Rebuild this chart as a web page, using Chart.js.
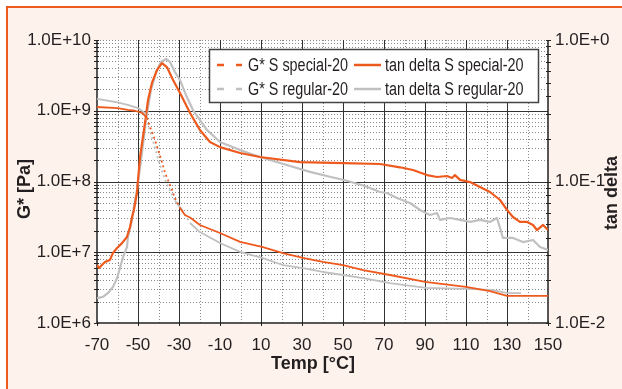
<!DOCTYPE html>
<html>
<head>
<meta charset="utf-8">
<script src="https://cdn.jsdelivr.net/npm/chart.js@4.4.1/dist/chart.umd.min.js"></script>
<style>
  html, body { margin: 0; padding: 0; background: #fff; }
  canvas { display: block; }
</style>
</head>
<body>
<canvas id="chart" width="622" height="389"></canvas>
<script>
// ---- values ----
const seriesLabels = ['G* S special-20', 'G* S regular-20', 'tan delta S special-20', 'tan delta S regular-20'];

const gSpecialTemp = [-70, -60, -55, -51.5, -48, -45.6, -43.2, -41.7, -40.2, -38.3, -36.8, -35.4, -33.4, -32, -29.5, -27.1, -24.6, -19.8, -10, -0.2, 10.5, 20.7, 30.5, 40.2, 50, 59.8, 72.9, 90, 110, 121.7, 130, 140, 150];
const gSpecialVal = [1.13e9, 1.09e9, 1.03e9, 1.0e9, 9.3e8, 7.9e8, 5.0e8, 3.86e8, 2.79e8, 1.89e8, 1.32e8, 1.05e8, 7.6e7, 5.85e7, 4.22e7, 3.36e7, 3.1e7, 2.43e7, 1.87e7, 1.40e7, 1.19e7, 9.75e6, 8.3e6, 7.3e6, 6.6e6, 5.6e6, 4.77e6, 3.8e6, 3.23e6, 2.83e6, 2.41e6, 2.41e6, 2.41e6];

const gRegularTemp = [-70, -61, -55, -50, -46.6, -44.5, -42, -40, -38, -36, -34, -32, -28.5, -24.6, -19.8, -10, -0.2, 10.5, 20.7, 30.5, 40.2, 50, 59.8, 72.9, 90.5, 111, 122.2, 130.5, 136.8];
const gRegularVal = [1.47e9, 1.33e9, 1.21e9, 1.09e9, 9.3e8, 5.6e8, 3.2e8, 2.0e8, 1.32e8, 9.3e7, 7.1e7, 5.4e7, 3.95e7, 2.59e7, 1.93e7, 1.35e7, 1.01e7, 8.3e6, 6.6e6, 5.98e6, 5.26e6, 4.77e6, 4.32e6, 3.67e6, 3.13e6, 3.03e6, 2.93e6, 2.65e6, 2.65e6];

const tanSpecialTemp = [-70, -69, -67.6, -66.1, -63.7, -62.2, -60.2, -57.8, -55.4, -53.9, -52.9, -52, -50.5, -50, -49, -46.6, -45.1, -43.2, -40.7, -38.3, -35.9, -32.9, -29.5, -24.6, -19.8, -14.9, -10, -0.2, 9.5, 29, 50.5, 68, 77.8, 84.1, 91, 95.9, 100.7, 103.2, 104.6, 107.1, 112, 116.8, 121.7, 126.6, 130, 132.9, 136.3, 139.8, 142.7, 144.6, 147.6, 150];
const tanSpecialVal = [0.0257, 0.0245, 0.0257, 0.027, 0.0279, 0.0313, 0.0339, 0.0367, 0.0405, 0.0477, 0.0561, 0.0629, 0.083, 0.1025, 0.149, 0.259, 0.377, 0.497, 0.614, 0.687, 0.644, 0.521, 0.422, 0.305, 0.231, 0.190, 0.175, 0.159, 0.149, 0.137, 0.135, 0.133, 0.126, 0.1205, 0.111, 0.1076, 0.1094, 0.106, 0.111, 0.1026, 0.0991, 0.0914, 0.0843, 0.074, 0.063, 0.0561, 0.0518, 0.0518, 0.0493, 0.0454, 0.0493, 0.0454];

const tanRegularTemp = [-70, -67.1, -64.6, -62.2, -60.2, -58.8, -57.3, -55.4, -54.9, -52.9, -52, -50.5, -48.5, -46.1, -43.7, -41.2, -38.8, -36.3, -34.4, -32, -29.5, -26.6, -23.2, -16.3, -10, -0.2, 9.5, 19.3, 33.9, 44.1, 50.5, 60.7, 68, 71.5, 76.3, 82.7, 87.6, 92.4, 95.9, 97.3, 102.2, 107.1, 112, 116.8, 121.7, 125.1, 126.6, 128, 132.9, 137.8, 142.7, 146.1, 150];
const tanRegularVal = [0.0150, 0.0153, 0.0163, 0.0180, 0.0208, 0.0245, 0.0292, 0.0344, 0.0405, 0.0535, 0.066, 0.0871, 0.142, 0.272, 0.443, 0.594, 0.70, 0.734, 0.70, 0.594, 0.521, 0.409, 0.320, 0.231, 0.190, 0.167, 0.149, 0.135, 0.117, 0.1076, 0.1025, 0.0929, 0.0843, 0.0829, 0.0764, 0.0705, 0.0629, 0.058, 0.0599, 0.0535, 0.0552, 0.0535, 0.0518, 0.0535, 0.0518, 0.0552, 0.0469, 0.0399, 0.0399, 0.0373, 0.0386, 0.0344, 0.0328];

const tempTicks = [-70, -50, -30, -10, 10, 30, 50, 70, 90, 110, 130, 150];
const gTicks = [1e6, 1e7, 1e8, 1e9, 1e10];
const tanTicks = [1e-2, 1e-1, 1e0];

const ORANGE = '#EE5A1E';
const GREY = '#C0C0C0';
const PEACH = '#FDF2EC';
const TEXT = '#231F20';
const TICK_FONT = "'Liberation Sans', Arial, sans-serif";
const TITLE_FONT = "bold 18px 'Liberation Sans', Arial, sans-serif";

const toPoints = (xs, ys) => xs.map((x, i) => ({ x, y: ys[i] }));

// "1.0E+10" style labels
function sciLabel(v) {
  const e = Math.round(Math.log10(v));
  return '1.0E' + (e >= 0 ? '+' : '-') + Math.abs(e);
}

// the G* curves are dashed; where they are flat the dense data makes them look solid
function steepDash(ctx) {
  const dx = Math.abs(ctx.p1.x - ctx.p0.x) || 0.01;
  const dy = Math.abs(ctx.p1.y - ctx.p0.y);
  return dy / dx > 1.6 ? [2, 3] : undefined;
}

const framePlugin = {
  id: 'frame',
  beforeDraw(chart) {
    const c = chart.ctx, a = chart.chartArea;
    c.save();
    c.fillStyle = '#fff';
    c.fillRect(0, 0, chart.width, chart.height);
    c.fillStyle = PEACH;
    c.fillRect(7, 7, chart.width - 7, chart.height - 7);
    c.strokeStyle = ORANGE;
    c.lineWidth = 2;
    c.beginPath();
    c.moveTo(6, 7); c.lineTo(chart.width, 7);
    c.moveTo(7, 6); c.lineTo(7, chart.height);
    c.stroke();
    c.fillStyle = '#fff';
    c.fillRect(a.left, a.top, a.right - a.left, a.bottom - a.top);
    c.restore();
  },
  beforeDatasetsDraw(chart) {
    const c = chart.ctx, a = chart.chartArea;
    const xs = chart.scales.x, ys = chart.scales.y, y1 = chart.scales.y1;
    c.save();
    c.lineWidth = 1;
    // minor dotted lines
    c.strokeStyle = '#8a8a8a';
    c.setLineDash([1, 2]);
    c.beginPath();
    for (let t = -60; t < 150; t += 20) {
      const px = Math.round(xs.getPixelForValue(t)) + 0.5;
      c.moveTo(px, a.top); c.lineTo(px, a.bottom);
    }
    for (let d = 6; d < 10; d++) {
      for (let k = 2; k < 10; k++) {
        const py = Math.round(ys.getPixelForValue(k * Math.pow(10, d))) + 0.5;
        c.moveTo(a.left, py); c.lineTo(a.right, py);
      }
    }
    const topY = Math.round(a.top) + 0.5;
    c.moveTo(a.left, topY); c.lineTo(a.right, topY);
    c.stroke();
    // major solid lines
    c.setLineDash([]);
    c.strokeStyle = '#333';
    c.beginPath();
    tempTicks.slice(1, -1).forEach(t => {
      const px = Math.round(xs.getPixelForValue(t)) + 0.5;
      c.moveTo(px, a.top); c.lineTo(px, a.bottom);
    });
    gTicks.slice(1, -1).forEach(v => {
      const py = Math.round(ys.getPixelForValue(v)) + 0.5;
      c.moveTo(a.left, py); c.lineTo(a.right, py);
    });
    c.stroke();
    // axes
    c.strokeStyle = '#222';
    c.lineWidth = 1.5;
    c.beginPath();
    c.moveTo(a.left, a.top); c.lineTo(a.left, a.bottom); c.lineTo(a.right, a.bottom); c.lineTo(a.right, a.top);
    c.stroke();
    // tick marks
    c.lineWidth = 1;
    c.beginPath();
    for (let d = 6; d < 10; d++) {
      for (let k = 1; k < 10; k++) {
        const py = Math.round(ys.getPixelForValue(k * Math.pow(10, d))) + 0.5;
        c.moveTo(a.left - 3, py); c.lineTo(a.left + 2, py);
      }
    }
    for (let d = -2; d < 0; d++) {
      for (let k = 1; k < 10; k++) {
        const py = Math.round(y1.getPixelForValue(k * Math.pow(10, d))) + 0.5;
        c.moveTo(a.right - 2, py); c.lineTo(a.right + 3, py);
      }
    }
    [1e10, 1e0].forEach((v, i) => {
      const py = Math.round((i ? y1 : ys).getPixelForValue(v)) + 0.5;
      if (i) { c.moveTo(a.right - 2, py); c.lineTo(a.right + 3, py); }
      else { c.moveTo(a.left - 3, py); c.lineTo(a.left + 2, py); }
    });
    tempTicks.forEach(t => {
      const px = Math.round(xs.getPixelForValue(t)) + 0.5;
      c.moveTo(px, a.bottom - 2); c.lineTo(px, a.bottom + 3);
    });
    c.stroke();
    c.restore();
  },
  afterDraw(chart) {
    const c = chart.ctx;
    c.save();
    // axis titles
    c.fillStyle = TEXT;
    c.font = TITLE_FONT;
    c.textAlign = 'center';
    c.textBaseline = 'middle';
    c.fillText('Temp [°C]', 313, 364);
    c.translate(25, 189);
    c.rotate(-Math.PI / 2);
    c.fillText('G* [Pa]', 0, 0);
    c.setTransform(1, 0, 0, 1, 0, 0);
    c.translate(612, 193);
    c.rotate(-Math.PI / 2);
    c.fillText('tan delta', 0, 0);
    c.setTransform(1, 0, 0, 1, 0, 0);

    // legend, 2 x 2, drawn from the datasets
    c.fillStyle = '#fff';
    c.fillRect(209, 49, 329, 53);
    c.strokeStyle = '#444';
    c.lineWidth = 1.5;
    c.strokeRect(209.5, 49.5, 329, 53);
    c.font = "18px 'Liberation Sans', Arial, sans-serif";
    c.textAlign = 'left';
    const slots = [
      { ds: 0, x: 215, y: 65 }, { ds: 2, x: 352, y: 65 },
      { ds: 1, x: 215, y: 89 }, { ds: 3, x: 352, y: 89 }
    ];
    slots.forEach(s => {
      const ds = chart.data.datasets[s.ds];
      const dashed = s.ds < 2;
      c.strokeStyle = ds.borderColor;
      c.lineWidth = 2.5;
      c.setLineDash(dashed ? [7, 12] : []);
      c.beginPath();
      c.moveTo(s.x + 2, s.y); c.lineTo(s.x + (dashed ? 27 : 29), s.y);
      c.stroke();
      c.setLineDash([]);
      c.fillStyle = TEXT;
      // squeeze the text to look like the condensed face of the original
      c.save();
      c.translate(s.x + 33, s.y + 1);
      c.scale(0.8, 1);
      c.fillText(ds.label, 0, 0);
      c.restore();
    });
    c.restore();
  }
};

new Chart(document.getElementById('chart'), {
  type: 'line',
  data: {
    datasets: [
      {
        label: seriesLabels[0], yAxisID: 'y',
        data: toPoints(gSpecialTemp, gSpecialVal),
        borderColor: ORANGE, borderWidth: 1.8,
        segment: { borderDash: steepDash }
      },
      {
        label: seriesLabels[1], yAxisID: 'y',
        data: toPoints(gRegularTemp, gRegularVal),
        borderColor: GREY, borderWidth: 1.8,
        segment: { borderDash: steepDash }
      },
      {
        label: seriesLabels[2], yAxisID: 'y1',
        data: toPoints(tanSpecialTemp, tanSpecialVal),
        borderColor: ORANGE, borderWidth: 2.2
      },
      {
        label: seriesLabels[3], yAxisID: 'y1',
        data: toPoints(tanRegularTemp, tanRegularVal),
        borderColor: GREY, borderWidth: 2.2
      }
    ]
  },
  options: {
    responsive: false,
    animation: false,
    events: [],
    elements: { point: { radius: 0 }, line: { tension: 0, borderJoinStyle: 'round', fill: false } },
    layout: { padding: { top: 40, left: 0, right: 0, bottom: 0 } },
    scales: {
      x: {
        type: 'linear', min: -70, max: 150,
        afterBuildTicks: s => { s.ticks = tempTicks.map(v => ({ value: v })); },
        afterFit: s => { s.height = 66; },
        grid: { display: false, drawTicks: false, tickLength: 0 }, border: { display: false },
        ticks: { color: TEXT, font: { family: TICK_FONT, size: 17 }, padding: 12, maxRotation: 0, autoSkip: false }
      },
      y: {
        type: 'logarithmic', position: 'left', min: 1e6, max: 1e10,
        afterBuildTicks: s => { s.ticks = gTicks.map(v => ({ value: v })); },
        afterFit: s => { s.width = 97; },
        grid: { display: false, drawTicks: false, tickLength: 0 }, border: { display: false },
        ticks: { color: TEXT, font: { family: TICK_FONT, size: 17 }, padding: 6, callback: sciLabel }
      },
      y1: {
        type: 'logarithmic', position: 'right', min: 1e-2, max: 1,
        afterBuildTicks: s => { s.ticks = tanTicks.map(v => ({ value: v })); },
        afterFit: s => { s.width = 74; },
        grid: { display: false, drawTicks: false, tickLength: 0 }, border: { display: false },
        ticks: { color: TEXT, font: { family: TICK_FONT, size: 17 }, padding: 7, callback: sciLabel }
      }
    },
    plugins: { legend: { display: false }, tooltip: { enabled: false } }
  },
  plugins: [framePlugin]
});
</script>
</body>
</html>
